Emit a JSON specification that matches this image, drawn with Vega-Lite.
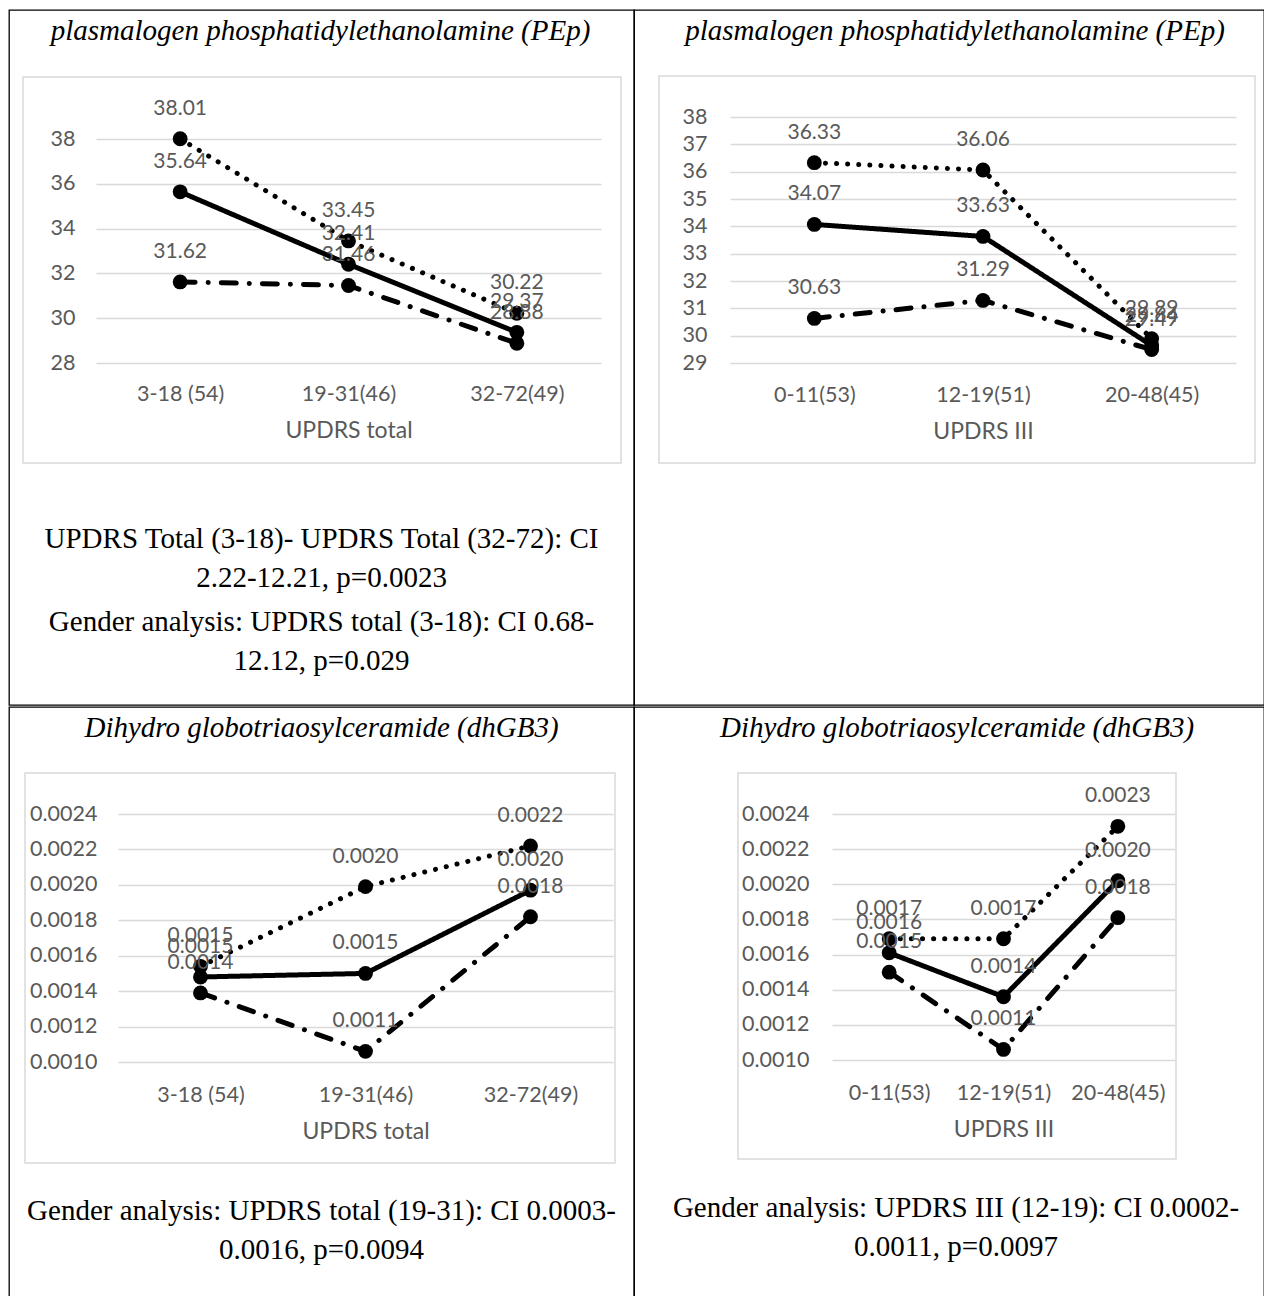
{
  "$schema": "https://vega.github.io/schema/vega-lite/v6.json",
  "padding": {"left": 8, "top": 9, "right": 0, "bottom": 0},
  "background": "white",
  "spacing": 0,
  "datasets": {
    "pep_total": [
      {"group": "3-18 (54)", "series": "sex_a", "value": 38.01},
      {"group": "19-31(46)", "series": "sex_a", "value": 33.45},
      {"group": "32-72(49)", "series": "sex_a", "value": 30.22},
      {"group": "3-18 (54)", "series": "all", "value": 35.64},
      {"group": "19-31(46)", "series": "all", "value": 32.41},
      {"group": "32-72(49)", "series": "all", "value": 29.37},
      {"group": "3-18 (54)", "series": "sex_b", "value": 31.62},
      {"group": "19-31(46)", "series": "sex_b", "value": 31.46},
      {"group": "32-72(49)", "series": "sex_b", "value": 28.88}
    ],
    "pep_iii": [
      {"group": "0-11(53)", "series": "sex_a", "value": 36.33},
      {"group": "12-19(51)", "series": "sex_a", "value": 36.06},
      {"group": "20-48(45)", "series": "sex_a", "value": 29.89},
      {"group": "0-11(53)", "series": "all", "value": 34.07},
      {"group": "12-19(51)", "series": "all", "value": 33.63},
      {"group": "20-48(45)", "series": "all", "value": 29.64},
      {"group": "0-11(53)", "series": "sex_b", "value": 30.63},
      {"group": "12-19(51)", "series": "sex_b", "value": 31.29},
      {"group": "20-48(45)", "series": "sex_b", "value": 29.49}
    ],
    "dhgb3_total": [
      {"group": "3-18 (54)", "series": "sex_a", "value": 0.00154},
      {"group": "19-31(46)", "series": "sex_a", "value": 0.00199},
      {"group": "32-72(49)", "series": "sex_a", "value": 0.00222},
      {"group": "3-18 (54)", "series": "all", "value": 0.00148},
      {"group": "19-31(46)", "series": "all", "value": 0.0015},
      {"group": "32-72(49)", "series": "all", "value": 0.00197},
      {"group": "3-18 (54)", "series": "sex_b", "value": 0.00139},
      {"group": "19-31(46)", "series": "sex_b", "value": 0.00106},
      {"group": "32-72(49)", "series": "sex_b", "value": 0.00182}
    ],
    "dhgb3_iii": [
      {"group": "0-11(53)", "series": "sex_a", "value": 0.00169},
      {"group": "12-19(51)", "series": "sex_a", "value": 0.00169},
      {"group": "20-48(45)", "series": "sex_a", "value": 0.00233},
      {"group": "0-11(53)", "series": "all", "value": 0.00161},
      {"group": "12-19(51)", "series": "all", "value": 0.00136},
      {"group": "20-48(45)", "series": "all", "value": 0.00202},
      {"group": "0-11(53)", "series": "sex_b", "value": 0.0015},
      {"group": "12-19(51)", "series": "sex_b", "value": 0.00106},
      {"group": "20-48(45)", "series": "sex_b", "value": 0.00181}
    ],
    "notes_a": [
      {"para": 1, "text": "UPDRS Total (3-18)- UPDRS Total (32-72): CI\n2.22-12.21, p=0.0023"},
      {"para": 2, "text": "Gender analysis: UPDRS total (3-18): CI 0.68-\n12.12, p=0.029"}
    ],
    "notes_c": [
      {"para": 1, "text": "Gender analysis: UPDRS total (19-31): CI 0.0003-\n0.0016, p=0.0094"}
    ],
    "notes_d": [
      {"para": 1, "text": "Gender analysis: UPDRS III (12-19): CI 0.0002-\n0.0011, p=0.0097"}
    ],
    "box": [{}]
  },
  "vconcat": [
    {
      "spacing": 0,
      "bounds": "flush",
      "hconcat": [
        {
          "width": 625,
          "height": 695,
          "title": {"text": "plasmalogen phosphatidylethanolamine (PEp)", "dx": -1},
          "resolve": {"scale": {"x": "independent", "y": "independent"}, "axis": {"x": "independent", "y": "independent"}},
          "layer": [
            {
              "data": {"name": "box"},
              "mark": {"type": "rect", "fill": "white", "fillOpacity": 0, "stroke": "#d9d9d9", "strokeWidth": 1.5},
              "encoding": {
                "x": {"datum": 0, "type": "quantitative", "scale": {"domain": [0, 1], "range": [14, 612]}, "axis": null},
                "x2": {"datum": 1},
                "y": {"datum": 0, "type": "quantitative", "scale": {"domain": [0, 1], "range": [67, 453]}, "axis": null},
                "y2": {"datum": 1}
              }
            },
            {
              "data": {"name": "pep_total"},
              "encoding": {
                "x": {"field": "group", "type": "ordinal", "sort": ["3-18 (54)", "19-31(46)", "32-72(49)"],
                      "scale": {"type": "point", "range": [87, 592], "padding": 0.5},
                      "axis": {"orient": "bottom", "offset": -326, "labelAngle": 0, "grid": false, "title": "UPDRS total", "titlePadding": 15}},
                "y": {"field": "value", "type": "quantitative",
                      "scale": {"domain": [28, 38], "range": [353, 129], "nice": false, "zero": false},
                      "axis": {"orient": "left", "offset": -70, "values": [28, 30, 32, 34, 36, 38], "grid": true, "title": null}}
              },
              "layer": [
                {
                  "mark": {"type": "line", "color": "black", "strokeWidth": 5, "strokeCap": "round"},
                  "encoding": {
                    "strokeDash": {"field": "series", "type": "nominal", "scale": {"domain": ["sex_a", "all", "sex_b"], "range": [[0.1, 11], [1, 0], [15, 13, 0.1, 13]]}, "legend": null},
                    "order": {"value": null}
                  }
                },
                {
                  "mark": {"type": "circle", "size": 220, "color": "black", "opacity": 1},
                  "encoding": {"detail": {"field": "series"}}
                },
                {
                  "mark": {"type": "text", "dy": -24, "baseline": "alphabetic", "font": "Lato", "fontSize": 21, "color": "#595959"},
                  "encoding": {"text": {"field": "value", "type": "quantitative", "format": ".2f"}}
                }
              ]
            },
            {
              "data": {"name": "notes_a"},
              "mark": {"type": "text", "font": "Liberation Serif", "fontSize": 29, "color": "black", "align": "center", "baseline": "top", "lineBreak": "\n", "lineHeight": 39},
              "encoding": {
                "y": {"field": "para", "type": "quantitative", "scale": {"domain": [1, 2], "range": [515, 598]}, "axis": null},
                "text": {"field": "text"}
              }
            }
          ]
        },
        {
          "width": 630,
          "height": 695,
          "title": {"text": "plasmalogen phosphatidylethanolamine (PEp)", "dx": 6},
          "resolve": {"scale": {"x": "independent", "y": "independent"}, "axis": {"x": "independent", "y": "independent"}},
          "layer": [
            {
              "data": {"name": "box"},
              "mark": {"type": "rect", "fill": "white", "fillOpacity": 0, "stroke": "#d9d9d9", "strokeWidth": 1.5},
              "encoding": {
                "x": {"datum": 0, "type": "quantitative", "scale": {"domain": [0, 1], "range": [25, 621]}, "axis": null},
                "x2": {"datum": 1},
                "y": {"datum": 0, "type": "quantitative", "scale": {"domain": [0, 1], "range": [66, 453]}, "axis": null},
                "y2": {"datum": 1}
              }
            },
            {
              "data": {"name": "pep_iii"},
              "encoding": {
                "x": {"field": "group", "type": "ordinal", "sort": ["0-11(53)", "12-19(51)", "20-48(45)"],
                      "scale": {"type": "point", "range": [96, 602], "padding": 0.5},
                      "axis": {"orient": "bottom", "offset": -325, "labelAngle": 0, "grid": false, "title": "UPDRS III", "titlePadding": 15}},
                "y": {"field": "value", "type": "quantitative",
                      "scale": {"domain": [29, 38], "range": [353, 107], "nice": false, "zero": false},
                      "axis": {"orient": "left", "offset": -77, "values": [29, 30, 31, 32, 33, 34, 35, 36, 37, 38], "grid": true, "title": null}}
              },
              "layer": [
                {
                  "mark": {"type": "line", "color": "black", "strokeWidth": 5, "strokeCap": "round"},
                  "encoding": {
                    "strokeDash": {"field": "series", "type": "nominal", "scale": {"domain": ["sex_a", "all", "sex_b"], "range": [[0.1, 11], [1, 0], [15, 13, 0.1, 13]]}, "legend": null},
                    "order": {"value": null}
                  }
                },
                {
                  "mark": {"type": "circle", "size": 220, "color": "black", "opacity": 1},
                  "encoding": {"detail": {"field": "series"}}
                },
                {
                  "mark": {"type": "text", "dy": -24, "baseline": "alphabetic", "font": "Lato", "fontSize": 21, "color": "#595959"},
                  "encoding": {"text": {"field": "value", "type": "quantitative", "format": ".2f"}}
                }
              ]
            }
          ]
        }
      ]
    },
    {
      "spacing": 0,
      "bounds": "flush",
      "hconcat": [
        {
          "width": 625,
          "height": 591,
          "title": {"text": "Dihydro globotriaosylceramide (dhGB3)"},
          "resolve": {"scale": {"x": "independent", "y": "independent"}, "axis": {"x": "independent", "y": "independent"}},
          "layer": [
            {
              "data": {"name": "box"},
              "mark": {"type": "rect", "fill": "white", "fillOpacity": 0, "stroke": "#d9d9d9", "strokeWidth": 1.5},
              "encoding": {
                "x": {"datum": 0, "type": "quantitative", "scale": {"domain": [0, 1], "range": [16, 606]}, "axis": null},
                "x2": {"datum": 1},
                "y": {"datum": 0, "type": "quantitative", "scale": {"domain": [0, 1], "range": [66, 456]}, "axis": null},
                "y2": {"datum": 1}
              }
            },
            {
              "data": {"name": "dhgb3_total"},
              "encoding": {
                "x": {"field": "group", "type": "ordinal", "sort": ["3-18 (54)", "19-31(46)", "32-72(49)"],
                      "scale": {"type": "point", "range": [109, 604], "padding": 0.5},
                      "axis": {"orient": "bottom", "offset": -218, "labelAngle": 0, "grid": false, "title": "UPDRS total", "titlePadding": 15}},
                "y": {"field": "value", "type": "quantitative",
                      "scale": {"domain": [0.001, 0.0024], "range": [355, 107], "nice": false, "zero": false},
                      "axis": {"orient": "left", "offset": -92, "values": [0.001, 0.0012, 0.0014, 0.0016, 0.0018, 0.002, 0.0022, 0.0024], "format": ".4f", "grid": true, "title": null}}
              },
              "layer": [
                {
                  "mark": {"type": "line", "color": "black", "strokeWidth": 5, "strokeCap": "round"},
                  "encoding": {
                    "strokeDash": {"field": "series", "type": "nominal", "scale": {"domain": ["sex_a", "all", "sex_b"], "range": [[0.1, 11], [1, 0], [15, 13, 0.1, 13]]}, "legend": null},
                    "order": {"value": null}
                  }
                },
                {
                  "mark": {"type": "circle", "size": 220, "color": "black", "opacity": 1},
                  "encoding": {"detail": {"field": "series"}}
                },
                {
                  "mark": {"type": "text", "dy": -24, "baseline": "alphabetic", "font": "Lato", "fontSize": 21, "color": "#595959"},
                  "encoding": {"text": {"field": "value", "type": "quantitative", "format": ".4f"}}
                }
              ]
            },
            {
              "data": {"name": "notes_c"},
              "mark": {"type": "text", "font": "Liberation Serif", "fontSize": 29, "color": "black", "align": "center", "baseline": "top", "lineBreak": "\n", "lineHeight": 39},
              "encoding": {
                "y": {"field": "para", "type": "quantitative", "scale": {"domain": [1, 2], "range": [490, 575]}, "axis": null},
                "text": {"field": "text"}
              }
            }
          ]
        },
        {
          "width": 630,
          "height": 591,
          "title": {"text": "Dihydro globotriaosylceramide (dhGB3)", "dx": 8},
          "resolve": {"scale": {"x": "independent", "y": "independent"}, "axis": {"x": "independent", "y": "independent"}},
          "layer": [
            {
              "data": {"name": "box"},
              "mark": {"type": "rect", "fill": "white", "fillOpacity": 0, "stroke": "#d9d9d9", "strokeWidth": 1.5},
              "encoding": {
                "x": {"datum": 0, "type": "quantitative", "scale": {"domain": [0, 1], "range": [104, 542]}, "axis": null},
                "x2": {"datum": 1},
                "y": {"datum": 0, "type": "quantitative", "scale": {"domain": [0, 1], "range": [66, 452]}, "axis": null},
                "y2": {"datum": 1}
              }
            },
            {
              "data": {"name": "dhgb3_iii"},
              "encoding": {
                "x": {"field": "group", "type": "ordinal", "sort": ["0-11(53)", "12-19(51)", "20-48(45)"],
                      "scale": {"type": "point", "range": [198, 541], "padding": 0.5},
                      "axis": {"orient": "bottom", "offset": -220, "labelAngle": 0, "grid": false, "title": "UPDRS III", "titlePadding": 15}},
                "y": {"field": "value", "type": "quantitative",
                      "scale": {"domain": [0.001, 0.0024], "range": [353, 107], "nice": false, "zero": false},
                      "axis": {"orient": "left", "offset": -179, "values": [0.001, 0.0012, 0.0014, 0.0016, 0.0018, 0.002, 0.0022, 0.0024], "format": ".4f", "grid": true, "title": null}}
              },
              "layer": [
                {
                  "mark": {"type": "line", "color": "black", "strokeWidth": 5, "strokeCap": "round"},
                  "encoding": {
                    "strokeDash": {"field": "series", "type": "nominal", "scale": {"domain": ["sex_a", "all", "sex_b"], "range": [[0.1, 11], [1, 0], [15, 13, 0.1, 13]]}, "legend": null},
                    "order": {"value": null}
                  }
                },
                {
                  "mark": {"type": "circle", "size": 220, "color": "black", "opacity": 1},
                  "encoding": {"detail": {"field": "series"}}
                },
                {
                  "mark": {"type": "text", "dy": -24, "baseline": "alphabetic", "font": "Lato", "fontSize": 21, "color": "#595959"},
                  "encoding": {"text": {"field": "value", "type": "quantitative", "format": ".4f"}}
                }
              ]
            },
            {
              "data": {"name": "notes_d"},
              "mark": {"type": "text", "font": "Liberation Serif", "fontSize": 29, "color": "black", "align": "center", "baseline": "top", "lineBreak": "\n", "lineHeight": 39, "dx": 7},
              "encoding": {
                "y": {"field": "para", "type": "quantitative", "scale": {"domain": [1, 2], "range": [487, 572]}, "axis": null},
                "text": {"field": "text"}
              }
            }
          ]
        }
      ]
    }
  ],
  "config": {
    "view": {"stroke": "black", "strokeWidth": 1.3},
    "axis": {
      "domain": false,
      "ticks": false,
      "tickSize": 0,
      "labelPadding": 4,
      "labelFont": "Lato",
      "labelFontSize": 21.5,
      "labelColor": "#595959",
      "titleFont": "Lato",
      "titleFontSize": 23,
      "titleFontWeight": "normal",
      "titleColor": "#595959",
      "gridColor": "#d9d9d9",
      "gridWidth": 1.5
    },
    "title": {
      "font": "Liberation Serif",
      "fontStyle": "italic",
      "fontWeight": "normal",
      "fontSize": 29,
      "color": "black",
      "anchor": "middle",
      "frame": "group",
      "baseline": "alphabetic",
      "offset": -36
    }
  }
}
